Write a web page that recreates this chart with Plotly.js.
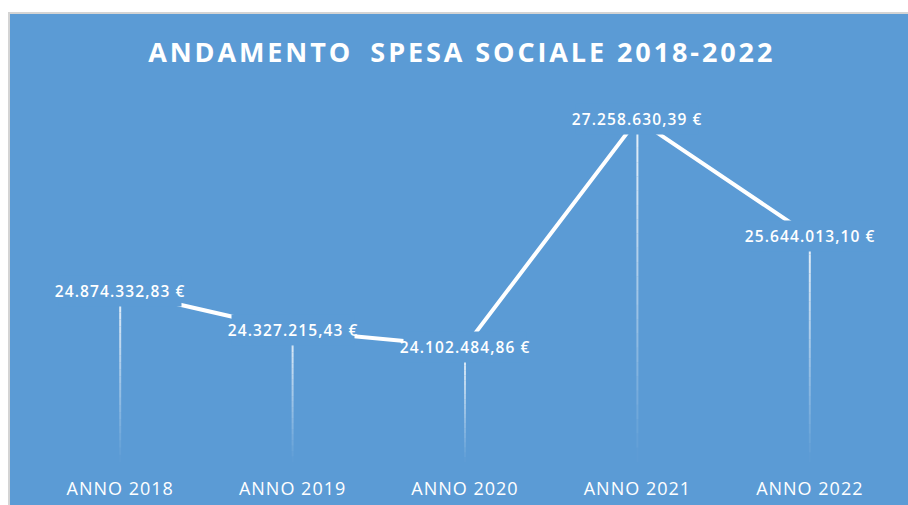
<!DOCTYPE html>
<html>
<head>
<meta charset="utf-8">
<script src="https://cdn.plot.ly/plotly-3.0.1.min.js"></script>
<style>
  html, body { margin: 0; padding: 0; background: #ffffff; }
  #frame { position: absolute; left: 8px; top: 12px; width: 900px; height: 493px; background: #d4d4d4; }
  #chart { position: absolute; left: 10px; top: 14px; width: 898px; height: 491px; }
  #chart .gtitle { letter-spacing: 2.9px; }
  #chart .annotation-text { letter-spacing: 1.1px; }
  #chart .xtick text { letter-spacing: 1px; }
</style>
</head>
<body>
<div id="frame"></div>
<div id="chart"></div>
<script>
// ---- data ----
const categories = ["ANNO 2018", "ANNO 2019", "ANNO 2020", "ANNO 2021", "ANNO 2022"];
const spesa = [24874332.83, 24327215.43, 24102484.86, 27258630.39, 25644013.10];
const yMin = 22500000;
const yMax = 27500000;
const chartTitle = "ANDAMENTO\u2009 SPESA SOCIALE 2018-2022";

// ---- helpers ----
function fmtEuro(v) {
  const parts = v.toFixed(2).split(".");
  const intPart = parts[0].replace(/\B(?=(\d{3})+(?!\d))/g, ".");
  return intPart + "," + parts[1] + " €";
}

const BLUE = "#5B9BD5";
const traces = [];

// fading drop lines (gradient approximated by stacked segments)
const N = 24;
for (let k = 0; k < N; k++) {
  const xs = [], ys = [];
  categories.forEach((c, i) => {
    const top = spesa[i] - (spesa[i] - yMin) * k / N;
    const bot = spesa[i] - (spesa[i] - yMin) * (k + 1) / N;
    xs.push(c, c, null);
    ys.push(top, bot, null);
  });
  const a = 0.88 * (1 - (k + 0.5) / N);
  traces.push({
    type: "scatter", mode: "lines", x: xs, y: ys,
    line: { color: "rgba(255,255,255," + a.toFixed(3) + ")", width: 2 },
    hoverinfo: "skip", showlegend: false, connectgaps: false
  });
}

// main line
traces.push({
  type: "scatter", mode: "lines", x: categories, y: spesa,
  line: { color: "#ffffff", width: 4 },
  hoverinfo: "skip", showlegend: false
});

const annotations = categories.map((c, i) => ({
  x: c, y: spesa[i], xref: "x", yref: "y",
  text: fmtEuro(spesa[i]), showarrow: false,
  xanchor: "center", yanchor: "middle",
  bgcolor: BLUE, borderpad: 4,
  font: { family: "Open Sans, sans-serif", size: 15.5, weight: 600, color: "#ffffff" }
}));

const layout = {
  width: 898, height: 491,
  paper_bgcolor: BLUE, plot_bgcolor: BLUE,
  margin: { l: 24, r: 12, t: 88, b: 43 },
  title: {
    text: "<b>" + chartTitle + "</b>",
    x: 0.503, xref: "container", xanchor: "center",
    y: 0.922, yref: "container", yanchor: "middle",
    font: { family: "Open Sans, sans-serif", size: 27, color: "#ffffff" }
  },
  xaxis: {
    type: "category", range: [-0.5, 4.5],
    showgrid: false, zeroline: false, showline: false, ticks: "",
    ticklabelstandoff: 14,
    tickfont: { family: "Open Sans, sans-serif", size: 18, color: "#ffffff" }
  },
  yaxis: {
    range: [yMin, yMax], showgrid: false, zeroline: false,
    showline: false, showticklabels: false, ticks: ""
  },
  annotations: annotations,
  showlegend: false
};

Plotly.newPlot("chart", traces, layout, { displayModeBar: false, staticPlot: true });
</script>
</body>
</html>
